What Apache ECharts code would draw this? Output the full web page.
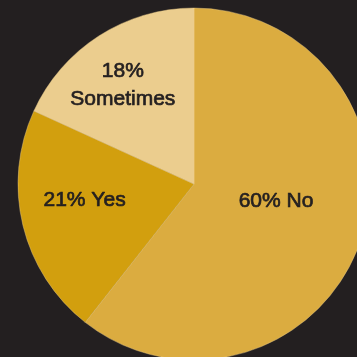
<!DOCTYPE html>
<html><head><meta charset="utf-8">
<script src="https://cdn.jsdelivr.net/npm/echarts@6/dist/echarts.min.js"></script>
<style>html,body{margin:0;padding:0;background:#231f20;}#c{width:357px;height:357px;}</style>
</head><body><div id="c"></div>
<script>
const categories = ['No', 'Yes', 'Sometimes'];
const values = [60, 21, 18];
const labelTexts = ['60% No', '21% Yes', '18%\nSometimes'];
const colors = ['#dbac40', '#d29f0e', '#ebcd8e'];
const labelOffsets = [[-4, -13], [-21, -5], [-22, -22]];

const chart = echarts.init(document.getElementById('c'), null, {renderer: 'canvas'});
chart.setOption({
  backgroundColor: '#231f20',
  animation: false,
  series: [{
    type: 'pie',
    center: [194, 184],
    radius: [0, 176],
    startAngle: 90,
    clockwise: true,
    silent: true,
    itemStyle: {borderWidth: 0.6, borderColor: 'rgba(240,210,140,0.7)'},
    label: {
      position: 'inside',
      color: '#231f20',
      fontFamily: '"Liberation Sans", Arial',
      fontSize: 21,
      lineHeight: 28,
      align: 'center',
      textBorderColor: '#231f20',
      textBorderWidth: 0.7
    },
    labelLine: {show: false},
    data: categories.map((c, i) => ({
      name: c,
      value: values[i],
      itemStyle: {color: colors[i]},
      label: {formatter: labelTexts[i], offset: labelOffsets[i]}
    }))
  }]
});
</script></body></html>
